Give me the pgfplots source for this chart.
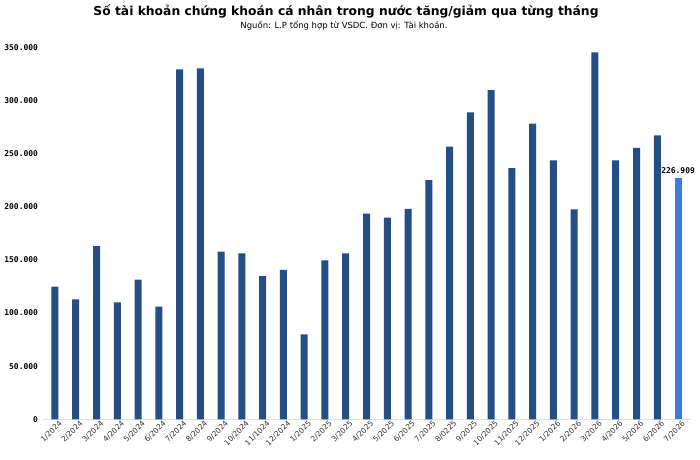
\documentclass[border=0pt]{standalone}
\usepackage{pgfplots}
\pgfplotsset{compat=1.18}
\usepackage{fontspec}
\setmainfont{DejaVu Sans}
\newfontfamily\monofont{DejaVu Sans Mono}
\definecolor{barblue}{HTML}{234F86}
\definecolor{lastblue}{HTML}{3C7DD9}
\begin{document}
\begin{tikzpicture}[x=1bp,y=1bp]
\useasboundingbox (0,0) rectangle (700,460);
\fill[white] (0,0) rectangle (700,460);
\node[anchor=center,inner sep=0] at (346,449) {\resizebox{505bp}{!}{\fontsize{13}{15}\selectfont\bfseries Số tài khoản chứng khoán cá nhân trong nước tăng/giảm qua từng tháng}};
\node[anchor=center,inner sep=0] at (344,434) {\resizebox{207bp}{!}{\fontsize{8.5}{10}\selectfont Nguồn: L.P tổng hợp từ VSDC. Đơn vị: Tài khoản.}};
\begin{axis}[
  at={(42.5bp,40.7bp)}, anchor=south west,
  scale only axis, width=648bp, height=372bp,
  xmin=-0.6, xmax=30.6, ymin=0, ymax=350000,
  axis line style={draw=none},
  ybar, bar width=7bp, bar shift=0pt,
  scaled y ticks=false,
  ytick={0,50000,100000,150000,200000,250000,300000,350000},
  yticklabels={0,50.000,100.000,150.000,200.000,250.000,300.000,350.000},
  yticklabel style={font=\monofont\bfseries\fontsize{8}{9}\selectfont, anchor=east, xshift=-1bp},
  xtick={0,...,30},
  xticklabels={1/2024,2/2024,3/2024,4/2024,5/2024,6/2024,7/2024,8/2024,9/2024,10/2024,11/1024,12/2024,1/2025,2/2025,3/2025,4/2025,5/2025,6/2025,7/2025,8/0225,9/2025,10/2025,11/2025,12/2025,1/2026,2/2026,3/2026,4/2026,5/2026,6/2026,7/2026},
  xticklabel style={font=\fontsize{7.5}{8.5}\selectfont, text=black!80, rotate=45, anchor=north east, inner sep=1bp, xshift=3bp, yshift=-2bp},
  major tick length=0pt,
  tick style={draw=none},
  clip=false,
]
\draw[black!12] (axis cs:-0.6,0) -- (axis cs:30.6,0);
\addplot[fill=barblue, draw=none, bar shift=0pt] coordinates {
(0,124800) (1,112900) (2,163000) (3,110000) (4,131300) (5,106000)
(6,329300) (7,330200) (8,157700) (9,156200) (10,134800) (11,140500)
(12,80000) (13,149600) (14,156200) (15,193500) (16,189700) (17,197900)
(18,225100) (19,256500) (20,288800) (21,309800) (22,236400) (23,278200)
(24,243700) (25,197600) (26,345300) (27,243700) (28,255300) (29,267200)
};
\addplot[fill=lastblue, draw=none, bar shift=0pt, nodes near coords={226.909}, nodes near coords style={font=\monofont\bfseries\fontsize{8}{9}\selectfont, text=black, anchor=south, yshift=1bp}] coordinates {(30,226909)};
\end{axis}
\end{tikzpicture}
\end{document}
